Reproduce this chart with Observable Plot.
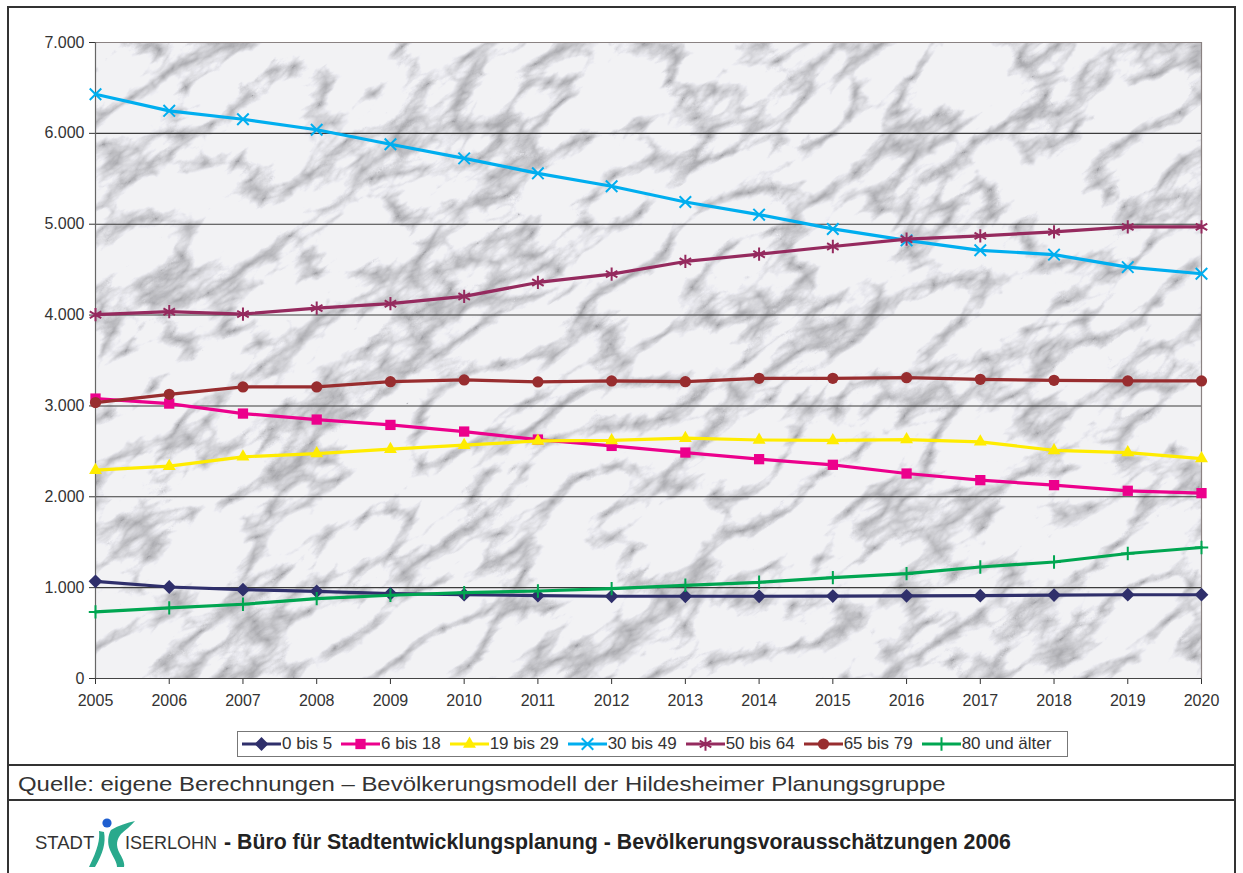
<!DOCTYPE html>
<html><head><meta charset="utf-8">
<script src="https://cdn.jsdelivr.net/npm/d3@7"></script>
<script src="https://cdn.jsdelivr.net/npm/@observablehq/plot@0.6"></script>
<style>
html,body{margin:0;padding:0;background:#fff;}
#page{position:relative;width:1243px;height:873px;overflow:hidden;font-family:"Liberation Sans",Arial,sans-serif;color:#333;}
#box{position:absolute;left:7px;top:6px;width:1229px;height:890px;border:2px solid #333;box-sizing:border-box;}
#chart{position:absolute;left:10px;top:10px;}
#legend{position:absolute;left:237px;top:731px;width:831px;height:26px;border:1px solid #777;box-sizing:border-box;background:#fff;display:flex;align-items:center;padding-left:3px;font-size:17px;white-space:nowrap;}
#legend .it{display:flex;align-items:center;margin-right:8px;}
#legend svg{display:block;}
.hline{position:absolute;left:7px;width:1229px;height:2px;background:#333;}
#quelle{position:absolute;left:18px;top:773px;font-size:21px;line-height:1;color:#333;white-space:nowrap;transform:scaleX(1.14);transform-origin:0 0;}
#footer{position:absolute;left:35px;top:815px;height:50px;white-space:nowrap;}
#footer span{position:absolute;white-space:nowrap;line-height:1;}
</style></head>
<body>
<svg width="0" height="0" style="position:absolute">
<defs>
<filter id="mf" x="0" y="0" width="1" height="1" color-interpolation-filters="sRGB">
<feTurbulence type="turbulence" baseFrequency="0.010 0.022" numOctaves="5" seed="5"/>
<feColorMatrix type="matrix" values="1.1 0 0 0 0.66  1.1 0 0 0 0.66  1.1 0 0 0 0.67  0 0 0 0 1"/>
<feComponentTransfer><feFuncR type="linear" slope="0.95"/><feFuncG type="linear" slope="0.95"/><feFuncB type="linear" slope="0.96"/></feComponentTransfer>
</filter>
<pattern id="marble" patternUnits="userSpaceOnUse" x="-700" y="-700" width="2000" height="2000" patternTransform="rotate(-35)">
<rect width="2000" height="2000" filter="url(#mf)"/>
</pattern>
</defs>
</svg>
<div id="page">
  <div id="box"></div>
  <div id="chart"></div>
  <div id="legend"></div>
  <div class="hline" style="top:764px"></div>
  <div id="quelle">Quelle: eigene Berechnungen – Bevölkerungsmodell der Hildesheimer Planungsgruppe</div>
  <div class="hline" style="top:799px"></div>
  <div id="footer">
    <span style="left:0;top:19px;font-size:18.5px;">STADT</span>
    <svg style="position:absolute;left:52px;top:2px" width="50" height="52" viewBox="0 0 50 52">
      <circle cx="20" cy="6" r="4.6" fill="#1f5fd0"/>
      <path d="M12 14 C13 22 11 32 2 50 L8 50 C16 36 19 26 17 15 Z" fill="#29a98c"/>
      <path d="M24 13 C32 8 40 6 48 4 C44 9 38 13 34 17 C30 22 28 28 33 37 C36 42 38 47 37 50 L30 50 C30 45 26 40 23 33 C20 26 21 18 24 13 Z" fill="#29a98c"/>
    </svg>
    <span style="left:90px;top:19px;font-size:18px;">ISERLOHN</span>
    <span style="left:189px;top:17px;font-size:21.3px;font-weight:bold;font-family:'Liberation Sans Narrow','Arial Narrow',sans-serif;color:#222;">- Büro für Stadtentwicklungsplanung - Bevölkerungsvorausschätzungen 2006</span>
  </div>
</div>
<script>
const years = [2005,2006,2007,2008,2009,2010,2011,2012,2013,2014,2015,2016,2017,2018,2019,2020];
const seriesNames = ["0 bis 5","6 bis 18","19 bis 29","30 bis 49","50 bis 64","65 bis 79","80 und älter"];
const v0bis5   = [1070,1007,978,960,934,923,912,905,905,905,907,910,912,918,922,922];
const v6bis18  = [3081,3026,2916,2850,2791,2718,2630,2560,2487,2414,2352,2256,2183,2128,2066,2040];
const v19bis29 = [2293,2337,2440,2476,2524,2568,2615,2620,2645,2625,2620,2630,2605,2510,2487,2421];
const v30bis49 = [6430,6248,6155,6040,5880,5725,5560,5418,5245,5105,4948,4822,4713,4665,4528,4455];
const v50bis64 = [4004,4037,4011,4077,4125,4205,4359,4451,4590,4670,4755,4835,4872,4916,4971,4971];
const v65bis79 = [3037,3128,3209,3209,3267,3286,3264,3275,3267,3304,3304,3311,3293,3282,3275,3275];
const v80      = [733,777,817,879,916,945,963,989,1026,1059,1110,1154,1227,1282,1376,1442];
const yTicks = [0,1000,2000,3000,4000,5000,6000,7000];

const seriesValues = [v0bis5,v6bis18,v19bis29,v30bis49,v50bis64,v65bis79,v80];
const colors = ["#2f2f6b","#ec008c","#ffec00","#00aeef","#952a5e","#982d2f","#00a651"];
const symbols = ["diamond2","square","triangle","times","asterisk","circle","plus"];
const filled = [true,true,true,false,false,true,false];
const radii = [6.2,5.8,4.8,5.3,6.3,5.6,4.4];

const rows = [];
seriesNames.forEach((s,i)=>years.forEach((y,j)=>rows.push({series:s,year:y,value:seriesValues[i][j]})));

const de = d3.formatLocale({decimal:",",thousands:".",grouping:[3],currency:["","€"]}).format(",");

const marks = [
  Plot.frame({fill:"url(#marble)", stroke:null}),
  Plot.ruleY(yTicks.slice(1,-1), {stroke:"#3c3c3c", strokeWidth:1.1}),
  Plot.ruleY([7000], {stroke:"#8a8282", strokeWidth:1.2}),
  Plot.ruleX([2020], {stroke:"#8a8282", strokeWidth:1.2}),
  Plot.ruleX([2005], {stroke:"#666", strokeWidth:1.2}),
  Plot.ruleY([0], {stroke:"#444", strokeWidth:1.2})
];
seriesNames.forEach((s,i)=>{
  const d = rows.filter(r=>r.series===s);
  marks.push(Plot.line(d,{x:"year",y:"value",stroke:colors[i],strokeWidth:3.2}));
  marks.push(Plot.dot(d,{x:"year",y:"value",symbol:symbols[i],r:radii[i],
    fill: filled[i]?colors[i]:"none", stroke:colors[i], strokeWidth: filled[i]?0:2}));
});

const chart = Plot.plot({
  width:1225, height:708,
  marginLeft:85, marginRight:34, marginTop:32, marginBottom:40,
  style:{fontFamily:"'Liberation Sans',Arial,sans-serif", fontSize:"16px", color:"#333", background:"transparent", overflow:"visible"},
  x:{domain:[2005,2020], ticks:years, tickFormat:d=>String(d), tickSize:6, tickPadding:10, label:null},
  y:{domain:[0,7000], ticks:yTicks, tickFormat:d=>de(d), tickSize:6, tickPadding:5, label:null},
  marks
});
document.getElementById("chart").appendChild(chart);

// legend
const leg = document.getElementById("legend");
const symMap = {diamond2:d3.symbolDiamond2,square:d3.symbolSquare,triangle:d3.symbolTriangle,times:d3.symbolTimes,asterisk:d3.symbolAsterisk,circle:d3.symbolCircle,plus:d3.symbolPlus};
seriesNames.forEach((s,i)=>{
  const it = document.createElement("div"); it.className="it";
  const sz = Math.PI*radii[i]*radii[i];
  const path = d3.symbol(symMap[symbols[i]], sz)();
  it.innerHTML = `<svg width="41" height="20"><line x1="1" x2="40" y1="10" y2="10" stroke="${colors[i]}" stroke-width="3"/>
    <path transform="translate(20.5,10)" d="${path}" fill="${filled[i]?colors[i]:'none'}" stroke="${colors[i]}" stroke-width="${filled[i]?0:2}"/></svg><span>${s}</span>`;
  leg.appendChild(it);
});
</script>
</body></html>
